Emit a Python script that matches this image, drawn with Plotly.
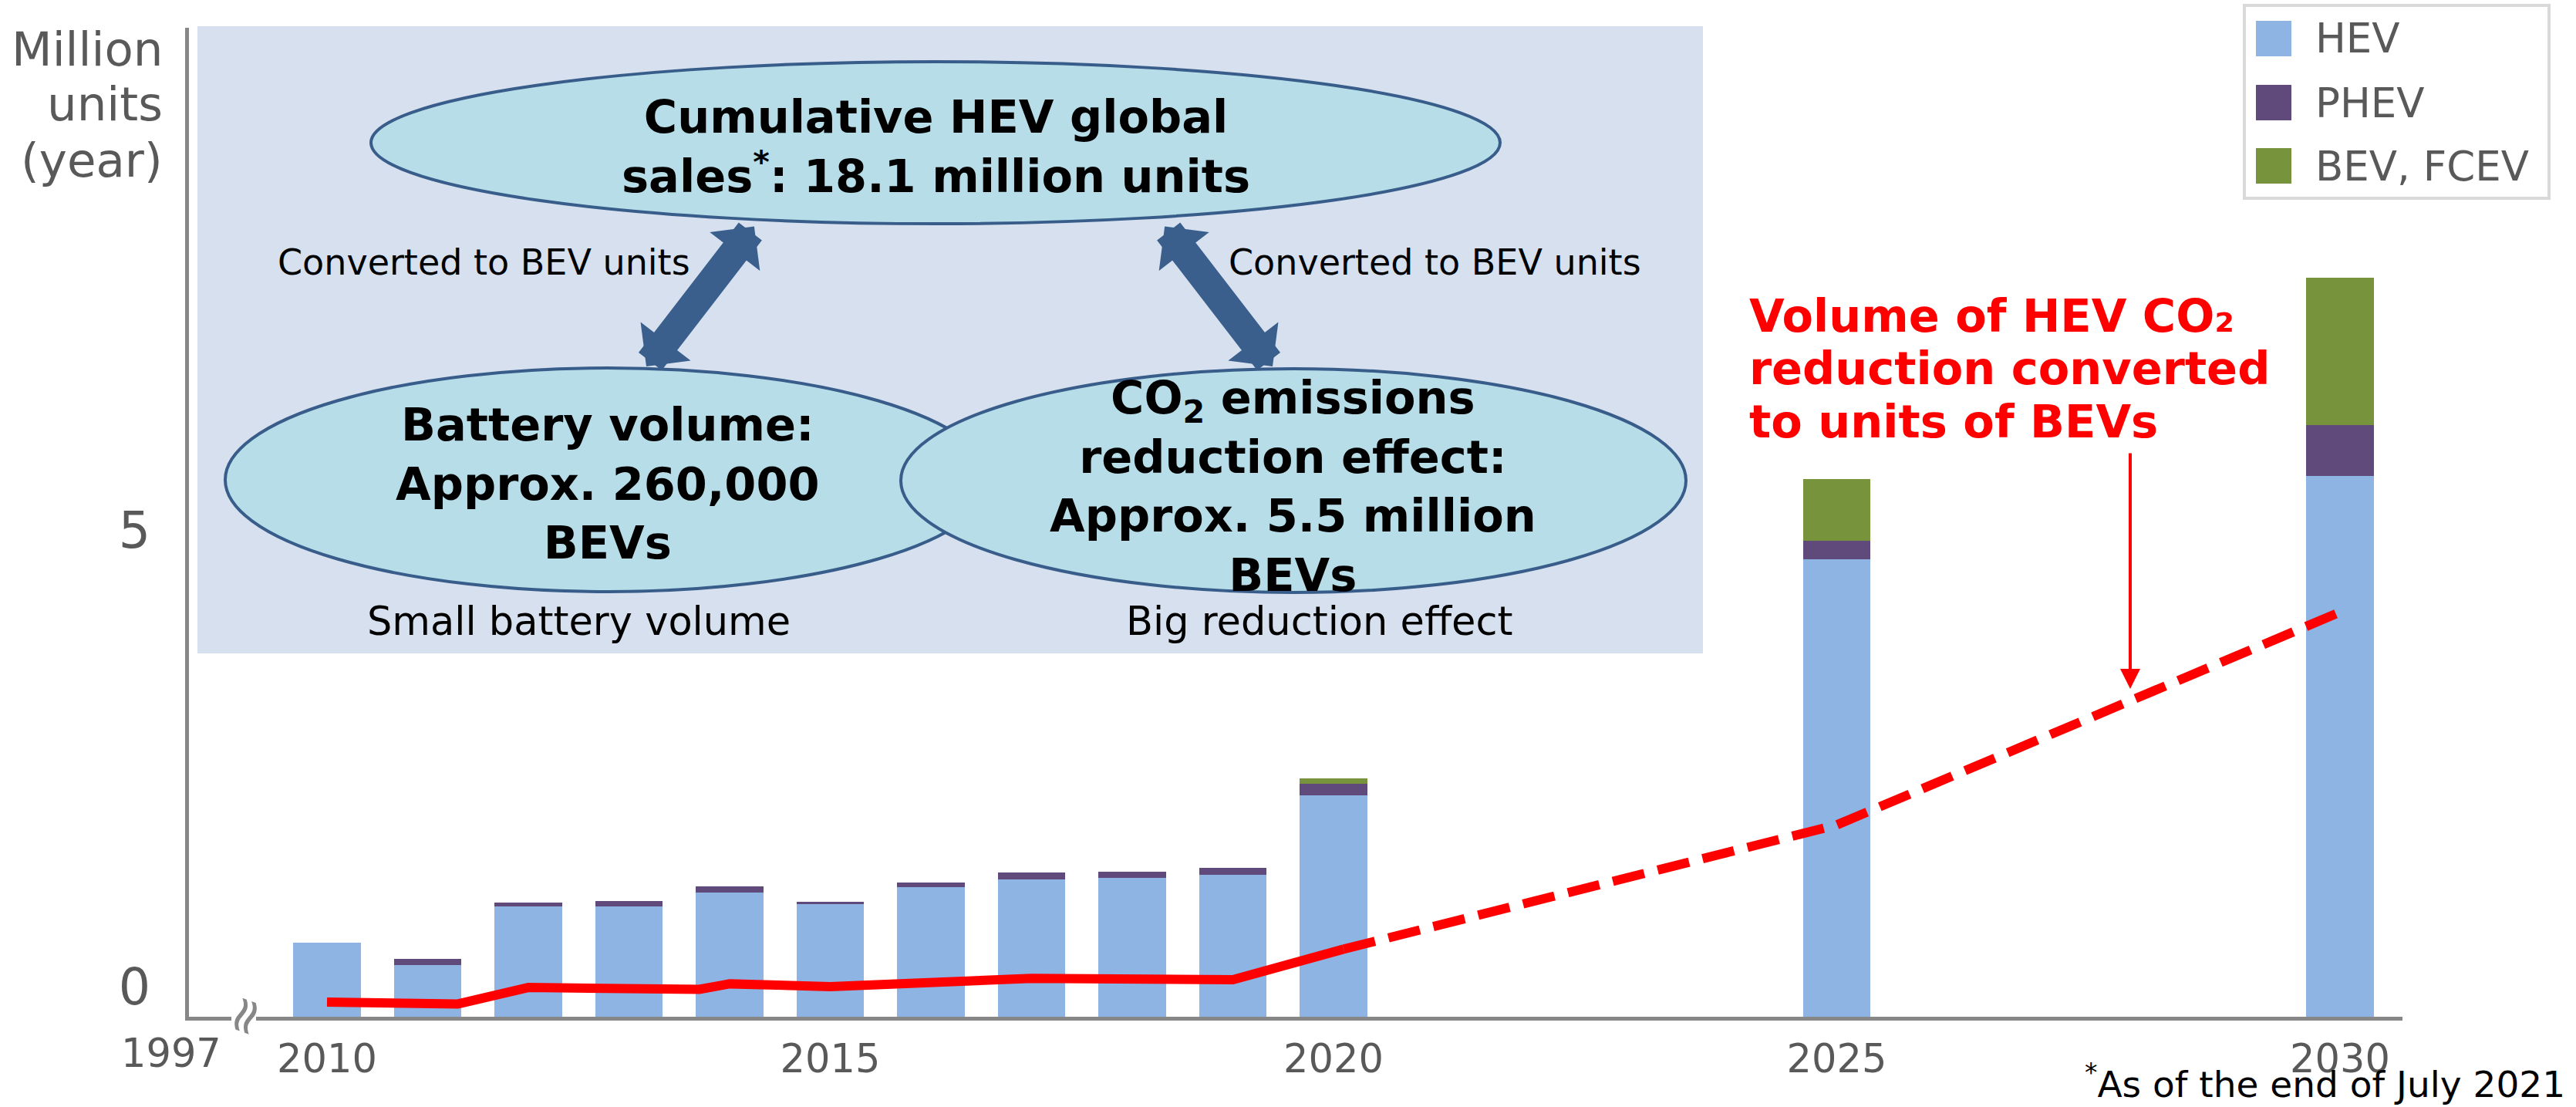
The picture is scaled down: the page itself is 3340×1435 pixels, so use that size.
import plotly.graph_objects as go

# ---------------- data ----------------
years = [2010, 2011, 2012, 2013, 2014, 2015, 2016, 2017, 2018, 2019, 2020, 2025, 2030]
hev = [0.81, 0.57, 1.21, 1.21, 1.36, 1.23, 1.42, 1.50, 1.52, 1.55, 2.42, 5.01, 5.92]
phev = [0.00, 0.06, 0.04, 0.06, 0.07, 0.03, 0.05, 0.08, 0.07, 0.08, 0.13, 0.20, 0.56]
bev_fcev = [0, 0, 0, 0, 0, 0, 0, 0, 0, 0, 0.06, 0.68, 1.61]

co2_years_actual = [2010, 2011.3, 2012, 2013.7, 2014, 2015, 2017, 2019, 2020.1]
co2_vals_actual = [0.16, 0.14, 0.32, 0.30, 0.36, 0.33, 0.42, 0.405, 0.74]
co2_years_proj = [2020.1, 2025, 2030]
co2_vals_proj = [0.74, 2.10, 4.43]

x_ticks = [2010, 2015, 2020, 2025, 2030]
y_ticks = [0, 5]
series_names = ["HEV", "PHEV", "BEV, FCEV"]

# ---------------- styling ----------------
C_HEV, C_PHEV, C_BEV = "#8EB4E3", "#604A7B", "#77933C"
RED = "#FF0000"
GREY_TXT = "#595959"
AXIS = "#878787"
FONT = "DejaVu Sans"

W, H = 3340, 1435
L, R, T, B = 245, 3115, 36, 1318          # plot-area pixel box
X0_YEAR, PPY = 2010, 130.5                 # 2010 at x=424 px, 130.5 px / year
X2010 = 424
PPU = 118.4                                # px per million units

x_range = [X0_YEAR - (X2010 - L) / PPY, X0_YEAR + (R - X2010) / PPY]
y_range = [0, (B - T) / PPU]


def px(X):
    return (X - L) / (R - L)


def py(Y):
    return (B - Y) / (B - T)


fig = go.Figure()
for name, vals, col in zip(series_names, [hev, phev, bev_fcev], [C_HEV, C_PHEV, C_BEV]):
    fig.add_trace(go.Bar(x=years, y=vals, name=name, marker=dict(color=col, line=dict(width=0)),
                         width=0.67, showlegend=False))

fig.add_trace(go.Scatter(x=co2_years_actual, y=co2_vals_actual, mode="lines",
                         line=dict(color=RED, width=12), showlegend=False))
fig.add_trace(go.Scatter(x=co2_years_proj, y=co2_vals_proj, mode="lines",
                         line=dict(color=RED, width=12, dash="42px,18px"), showlegend=False))

shapes = []
# diagram panel
shapes.append(dict(type="rect", xref="paper", yref="paper", x0=px(256), x1=px(2208), y0=py(34), y1=py(847),
                   fillcolor="#D6E0EE", line=dict(width=0), layer="above"))


def ellipse(cx, cy, rx, ry):
    return dict(type="circle", xref="paper", yref="paper", x0=px(cx - rx), x1=px(cx + rx),
                y0=py(cy + ry), y1=py(cy - ry), fillcolor="#B7DEE8",
                line=dict(color="#385D8A", width=4), layer="above")


shapes.append(ellipse(1213, 185, 732, 105))
shapes.append(ellipse(788, 622, 496, 145))
shapes.append(ellipse(1677, 623, 509, 145))

# axis break
shapes.append(dict(type="rect", xref="paper", yref="paper", x0=px(300), x1=px(332), y0=py(1324), y1=py(1313),
                   fillcolor="white", line=dict(width=0), layer="above"))

# legend box
shapes.append(dict(type="rect", xref="paper", yref="paper", x0=px(2910), x1=px(3305), y0=py(257), y1=py(7),
                   fillcolor="white", line=dict(color="#D9D9D9", width=4), layer="above"))
leg_y = [50, 133, 215]
for yy, col in zip(leg_y, [C_HEV, C_PHEV, C_BEV]):
    shapes.append(dict(type="rect", xref="paper", yref="paper", x0=px(2925), x1=px(2971),
                       y0=py(yy + 23), y1=py(yy - 23), fillcolor=col, line=dict(width=0), layer="above"))

ann = []


def text(X, Y, s, size, color="black", xanchor="center", bold=False):
    ann.append(dict(xref="paper", yref="paper", x=px(X), y=py(Y), text=("<b>%s</b>" % s) if bold else s,
                    showarrow=False, xanchor=xanchor, yanchor="middle",
                    font=dict(family=FONT, size=size, color=color)))


# y-axis title
text(213, 64, "Million", 61, GREY_TXT, "right")
text(213, 135, "units", 61, GREY_TXT, "right")
text(213, 207, "(year)", 61, GREY_TXT, "right")
# axis origin label & break
text(222, 1365, "1997", 51, GREY_TXT)
ann.append(dict(xref="paper", yref="paper", x=px(316), y=py(1317), text="≈", showarrow=False,
                textangle=-70, xanchor="center", yanchor="middle",
                font=dict(family=FONT, size=66, color=AXIS)))

# diagram texts
text(1213, 190, "Cumulative HEV global<br>sales<sup>*</sup>: 18.1 million units", 59, bold=True)
text(788, 627, "Battery volume:<br>Approx. 260,000<br>BEVs", 59, bold=True)
text(1676, 630, "CO<sub>2</sub> emissions<br>reduction effect:<br>Approx. 5.5 million<br>BEVs", 59, bold=True)
text(627, 340, "Converted to BEV units", 46)
text(1860, 340, "Converted to BEV units", 46)
text(750, 805, "Small battery volume", 51)
text(1711, 805, "Big reduction effect", 51)

# red callout
text(2266, 410, "Volume of HEV CO₂", 59, RED, "left", bold=True)
text(2266, 477, "reduction converted", 59, RED, "left", bold=True)
text(2266, 546, "to units of BEVs", 59, RED, "left", bold=True)

# legend labels
for yy, nm in zip(leg_y, series_names):
    text(3000, yy, nm, 53, GREY_TXT, "left")

# footnote
text(3328, 1402, "<sup>*</sup>As of the end of July 2021", 47, "black", "right")

# arrows (double headed)
for (hx, hy, tx, ty) in [(838, 475, 979, 292), (1650, 475, 1509, 292)]:
    ann.append(dict(xref="paper", yref="paper", x=px(hx), y=py(hy), axref="pixel", ayref="pixel",
                    ax=tx - hx, ay=ty - hy, text="", showarrow=True, arrowside="end+start",
                    arrowhead=1, startarrowhead=1, arrowsize=0.36, startarrowsize=0.36,
                    arrowwidth=38, arrowcolor="#3A5F8D", standoff=0, startstandoff=0))
# red pointer arrow
ann.append(dict(xref="paper", yref="paper", x=px(2762), y=py(893), axref="pixel", ayref="pixel",
                ax=0, ay=586 - 893, text="", showarrow=True, arrowhead=2, arrowsize=1.3,
                arrowwidth=4, arrowcolor=RED, standoff=0))

fig.update_layout(
    width=W, height=H, barmode="stack", bargap=0,
    margin=dict(l=L, r=W - R, t=T, b=H - B, pad=0),
    paper_bgcolor="white", plot_bgcolor="white",
    shapes=shapes, annotations=ann, showlegend=False,
    xaxis=dict(range=x_range, tickvals=x_ticks, ticktext=[str(v) for v in x_ticks],
               showgrid=False, zeroline=False, showline=True, linecolor=AXIS, linewidth=5,
               ticks="", ticklabelstandoff=6, tickfont=dict(family=FONT, size=51, color=GREY_TXT)),
    yaxis=dict(range=y_range, tickvals=y_ticks, showgrid=False, zeroline=False, showline=True,
               linecolor=AXIS, linewidth=5, ticks="", ticklabelstandoff=32, ticklabelshift=-39,
               tickfont=dict(family=FONT, size=65, color=GREY_TXT)),
)

fig.write_html("out.html", config={"displayModeBar": False},
               post_script="document.body.style.margin='0';document.body.style.overflow='hidden';")
